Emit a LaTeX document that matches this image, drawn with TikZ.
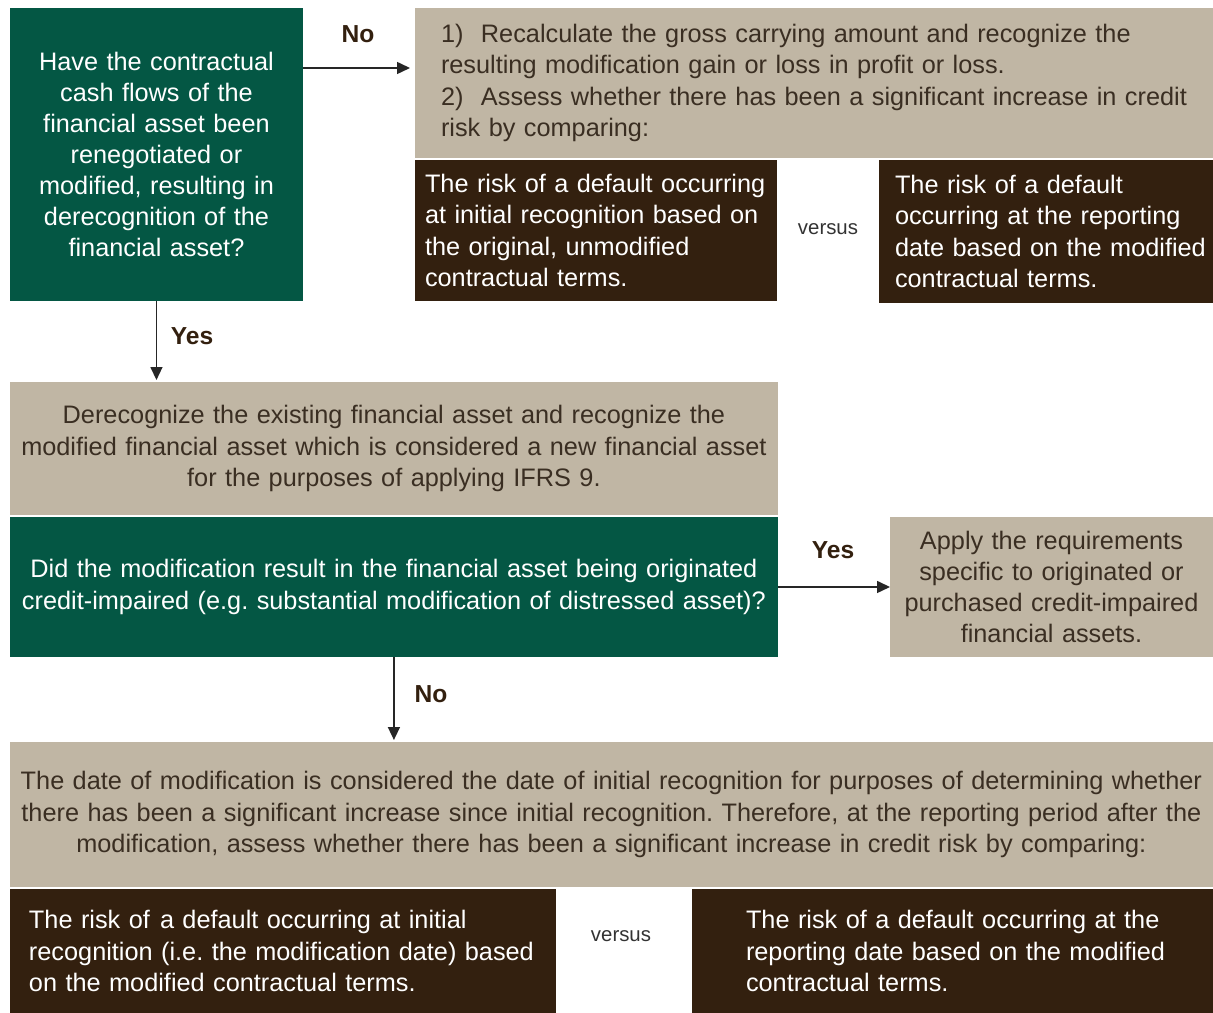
\documentclass[tikz,border=0pt]{standalone}
\usepackage{fontspec}
\setmainfont{Liberation Sans}
\usepackage{xcolor}
\definecolor{ifgreen}{RGB}{4,87,68}
\definecolor{ifbeige}{RGB}{192,182,164}
\definecolor{ifbrown}{RGB}{51,32,15}
\definecolor{iftext}{RGB}{58,46,34}
\usetikzlibrary{arrows.meta, positioning}
\frenchspacing

\tikzset{
  box/.style={anchor=north west, inner sep=0pt, outer sep=0pt,
    font=\fontsize{14.4}{17.7}\selectfont},
  greenbox/.style={box, fill=ifgreen, text=white, align=center},
  beigebox/.style={box, fill=ifbeige, text=iftext, align=center},
  brownbox/.style={box, fill=ifbrown, text=white, align=left},
  lbl/.style={font=\fontsize{14}{17}\selectfont\bfseries, text=ifbrown},
  vs/.style={font=\fontsize{11.6}{13}\selectfont, text=black!80},
  flow/.style={-{Triangle[length=0.26cm, width=0.24cm]}, line width=0.85pt, draw=black!85},
}

\begin{document}
\begin{tikzpicture}[x=0.02cm, y=-0.02cm]
    \useasboundingbox[fill=white] (0,0) rectangle (1213,1013);

    % Top: first question and the "No" branch
    \node[greenbox, minimum width=5.86cm, minimum height=5.86cm, text width=5.86cm] (q1) at (10,8)
        {Have the contractual\\ cash flows of the\\ financial asset been\\ renegotiated or\\ modified, resulting in\\ derecognition of the\\ financial asset?};
    \node[beigebox, align=left, inner xsep=0.52cm, text width=15.3cm, minimum height=3cm] (steps) at (415,8)
        {1)\hspace{0.35cm}Recalculate the gross carrying amount and recognize the\\ resulting modification gain or loss in profit or loss.\\ 2)\hspace{0.35cm}Assess whether there has been a significant increase in credit\\ risk by comparing:};
    \node[brownbox, inner xsep=0.2cm, text width=6.84cm, minimum height=2.82cm] (riskA) at (415,160)
        {The risk of a default occurring\\ at initial recognition based on\\ the original, unmodified\\ contractual terms.};
    \node[vs] (vsA) at (828,229) {versus};
    \node[brownbox, inner xsep=0.32cm, text width=6.6cm, minimum height=2.86cm] (riskB) at (879,160)
        {The risk of a default\\ occurring at the reporting\\ date based on the modified\\ contractual terms.};

    % Middle: derecognition and the credit-impaired question
    \node[beigebox, text width=15.36cm, minimum height=2.66cm] (derecog) at (10,382)
        {Derecognize the existing financial asset and recognize the\\ modified financial asset which is considered a new financial asset\\ for the purposes of applying IFRS 9.};
    \node[greenbox, text width=15.36cm, minimum height=2.8cm] (orig) at (10,517)
        {Did the modification result in the financial asset being originated\\ credit-impaired (e.g. substantial modification of distressed asset)?};
    \node[beigebox, text width=6.46cm, minimum height=2.8cm] (poci) at (890,517)
        {Apply the requirements\\ specific to originated or\\ purchased credit-impaired\\ financial assets.};

    % Bottom: new date of initial recognition
    \node[beigebox, text width=24.06cm, minimum height=2.9cm] (newdate) at (10,742)
        {The date of modification is considered the date of initial recognition for purposes of determining whether\\ there has been a significant increase since initial recognition. Therefore, at the reporting period after the\\ modification, assess whether there has been a significant increase in credit risk by comparing:};
    \node[brownbox, inner xsep=0.38cm, text width=10.16cm, minimum height=2.48cm] (riskC) at (10,889)
        {The risk of\hspace{0.4em}a default occurring at initial\\ recognition (i.e. the modification date) based\\ on the modified contractual terms.};
    \node[vs] (vsB) at (621,936) {versus};
    \node[brownbox, inner xsep=1.08cm, text width=8.7cm, minimum height=2.48cm] (riskD) at (692,889)
        {The risk of a default occurring at the\\ reporting date based on the modified\\ contractual terms.};

    % Connectors
    \coordinate (noY) at (0,68);
    \draw[flow, shorten >=0.1cm] (q1.east |- noY) -- (steps.west |- noY);
    \node[lbl] (noA) at (358,34) {No};
    \draw[flow, shorten >=0.04cm] (q1.south) -- (q1.south |- derecog.north);
    \node[lbl] (yesA) at (192,336) {Yes};
    \draw[flow] (orig.east) -- (poci.west);
    \node[lbl] (yesB) at (833,550) {Yes};
    \draw[flow, shorten >=0.04cm] (orig.south) -- (orig.south |- newdate.north);
    \node[lbl] (noB) at (431,694) {No};
\end{tikzpicture}
\end{document}
